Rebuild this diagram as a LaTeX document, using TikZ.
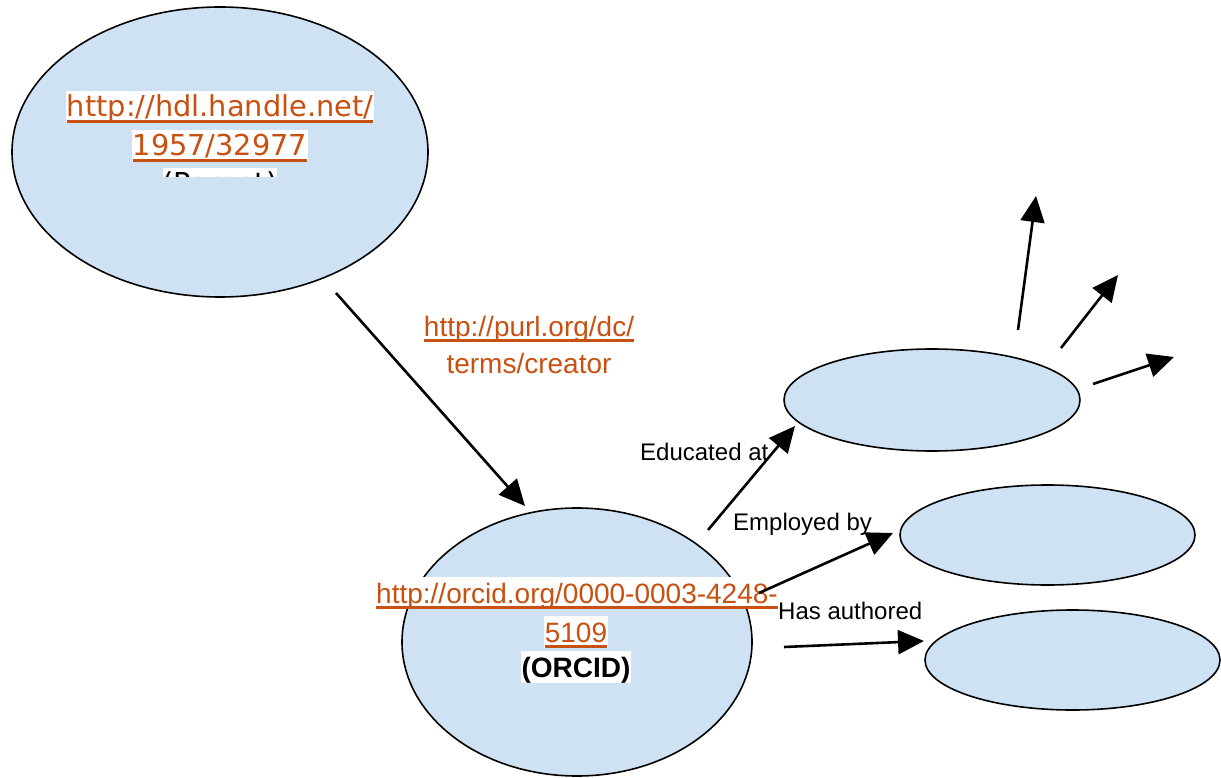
\documentclass[tikz,border=0pt]{standalone}
\usepackage{fontspec}
\setmainfont{Liberation Sans}
\newfontfamily\verd{DejaVu Sans}
\usetikzlibrary{shapes.geometric,arrows.meta}
\definecolor{linkc}{RGB}{200,80,16}
\definecolor{bubblec}{RGB}{207,226,243}
\newcommand{\ulk}[1]{{\color{linkc}\setbox0\hbox{#1}\rlap{\copy0}\rule[-0.21em]{\wd0}{0.1em}}}
\tikzset{
  bubble/.style={ellipse, draw=black, line width=1.6pt, fill=bubblec, inner sep=0pt},
  conn/.style={line width=2.6pt, -{Triangle[length=26pt,width=24pt]}},
  hl/.style={fill=white, inner xsep=1pt, inner ysep=0pt, text height=26pt, text depth=6pt, anchor=base},
  big/.style={font=\fontsize{28}{34}\selectfont},
  bigv/.style={font=\verd\fontsize{28.8}{34}\selectfont},
  lbl/.style={font=\fontsize{24}{28}\selectfont, inner sep=0pt, anchor=base west},
}
\begin{document}
\begin{tikzpicture}[x=1pt,y=-1pt]
\useasboundingbox (0,0) rectangle (1221,778);
% ellipses
\node[bubble, minimum width=416, minimum height=290] (parent) at (220,152) {};
\node[bubble, minimum width=350, minimum height=268] (orcid) at (577,642) {};
\node[bubble, minimum width=296, minimum height=102] (edu) at (932,400) {};
\node[bubble, minimum width=295, minimum height=100] (emp) at (1047.5,535) {};
\node[bubble, minimum width=295, minimum height=100] (auth) at (1072.5,660) {};
% parent text
\node[hl, bigv] (p1) at (220,117) {\ulk{http://hdl.handle.net/}};
\node[hl, bigv] (p2) at (220,156) {\ulk{1957/32977}};
\begin{scope}
  \clip (150,168) rectangle (290,177);
  \node[hl, bigv, inner xsep=0pt] (p3) at (220,194) {(Parent)};
\end{scope}
% orcid text
\node[hl, big] (o1) at (577,603) {\ulk{http://orcid.org/0000-0003-4248-}};
\node[hl, big] (o2) at (576,642) {\ulk{5109}};
\node[hl, big] (o3) at (576,677) {\textbf{(ORCID)}};
% predicate label
\node[big, anchor=base, inner sep=0pt] (pred1) at (529,336) {\ulk{http://purl.org/dc/}};
\node[big, anchor=base, inner sep=0pt, text=linkc] (pred2) at (529,373) {terms/creator};
% connector end points
\coordinate (a1s) at (336,293);
\coordinate (a1e) at (525,506);
\coordinate (edus) at (708,530);
\coordinate (edue) at (795,426);
\coordinate (emps) at (759,593);
\coordinate (empe) at (893,533);
\coordinate (auths) at (784,647);
\coordinate (authe) at (924,641);
\coordinate (x1s) at (1018,330);
\coordinate (x1e) at (1036,196);
\coordinate (x2s) at (1061,348);
\coordinate (x2e) at (1118,275);
\coordinate (x3s) at (1093,384);
\coordinate (x3e) at (1174,357);
% labels
\node[lbl] (leduc) at (640,460) {Educated at};
\node[lbl] (lemp) at (733,530) {Employed by};
\node[lbl] (lauth) at (778,619) {Has authored};
% connectors
\draw[conn] (a1s) -- (a1e);
\draw[conn] (edus) -- (edue);
\draw[conn] (emps) -- (empe);
\draw[conn] (auths) -- (authe);
\draw[conn] (x1s) -- (x1e);
\draw[conn] (x2s) -- (x2e);
\draw[conn] (x3s) -- (x3e);
\end{tikzpicture}
\end{document}
